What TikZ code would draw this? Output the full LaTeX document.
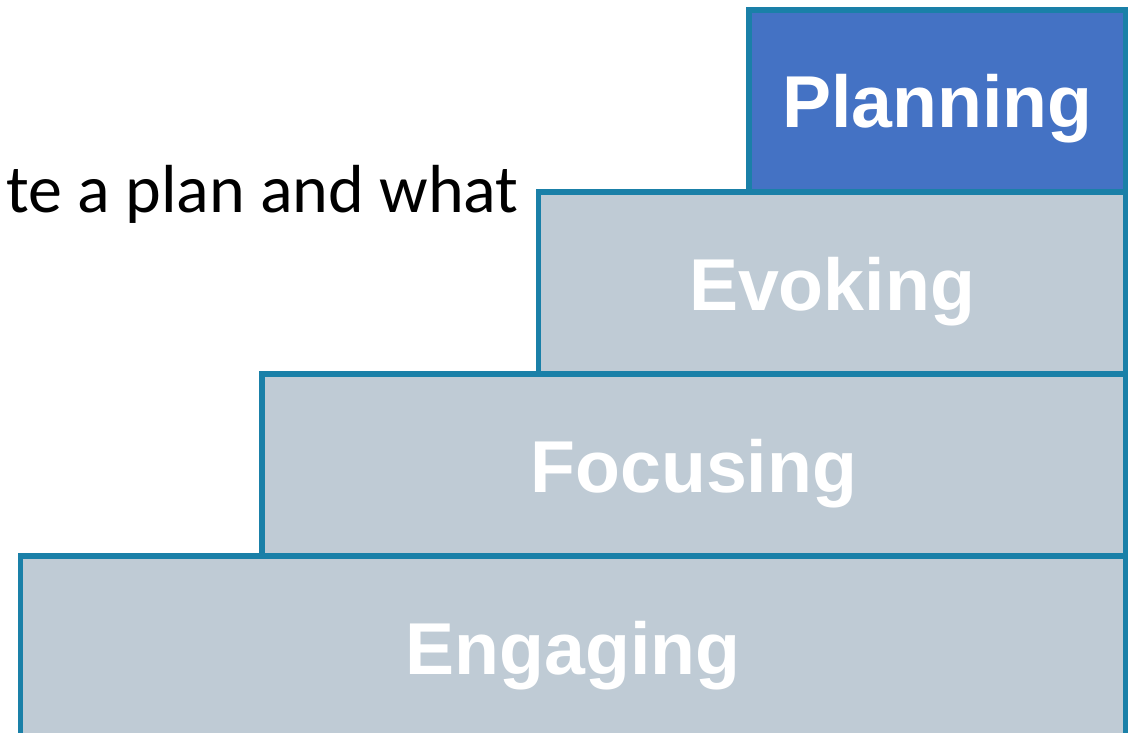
\documentclass[tikz,border=0pt]{standalone}
\usepackage{fontspec}
\setmainfont{Carlito}
\newfontfamily\stepfont{Liberation Sans}
\usepackage{tikz}

\definecolor{planblue}{HTML}{4472C4}
\definecolor{stepgrey}{HTML}{BFCBD5}
\definecolor{stepedge}{HTML}{1A80A8}

\begin{document}
\begin{tikzpicture}[x=1pt,y=-1pt,
        stepbox/.style={shape=rectangle,draw=stepedge,line width=5.5pt,fill=stepgrey,
                minimum height=182pt,inner sep=0pt,text height=54pt,text depth=0pt,
                text=white,font=\stepfont\bfseries\fontsize{73.5}{80}\selectfont}]
        \clip (0,0) rectangle (1128,733);
        \fill[white] (0,0) rectangle (1128,733);

        % stairs, bottom step first
        \node[stepbox,minimum width=1105pt] (engaging) at (573, 647)   {Engaging};
        \node[stepbox,minimum width=863.5pt] (focusing) at (693.75, 465) {Focusing};
        \node[stepbox,minimum width=587pt] (evoking) at (832, 283)    {Evoking};
        \node[stepbox,minimum width=376.5pt,fill=planblue] (planning) at (937.25, 101) {Planning};

        % sentence on the left
        \node[anchor=base east,inner sep=0pt,font=\fontsize{68}{80}\selectfont] (plantext) at (519, 213) {te a plan and what};
\end{tikzpicture}
\end{document}
